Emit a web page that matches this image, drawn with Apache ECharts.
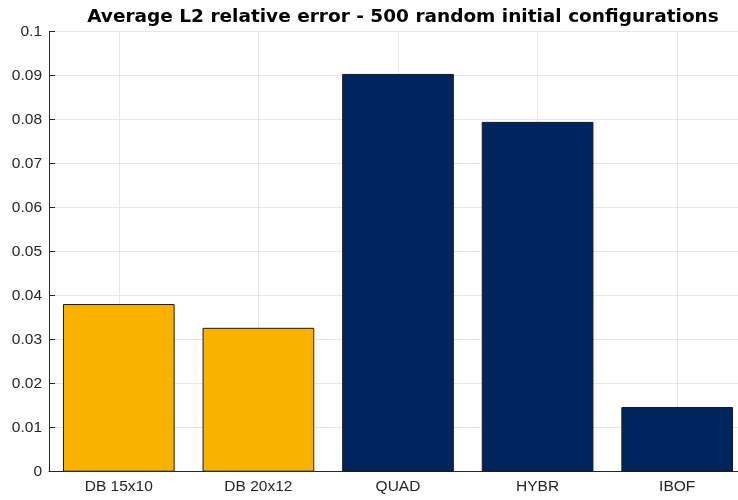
<!DOCTYPE html>
<html>
<head>
<meta charset="utf-8">
<script src="https://cdn.jsdelivr.net/npm/echarts@6/dist/echarts.min.js"></script>
<style>html,body{margin:0;padding:0;background:#fff;overflow:hidden;width:738px;height:500px}#c{width:760px;height:500px}</style>
</head>
<body>
<div id="c"></div>
<script>
const categories = ['DB 15x10', 'DB 20x12', 'QUAD', 'HYBR', 'IBOF'];
const values = [0.0381, 0.0327, 0.0904, 0.0795, 0.0147];
const barColors = ['#F9B200', '#F9B200', '#00245E', '#00245E', '#00245E'];
const yTicks = [0, 0.01, 0.02, 0.03, 0.04, 0.05, 0.06, 0.07, 0.08, 0.09, 0.1];

const chart = echarts.init(document.getElementById('c'), null, {renderer: 'canvas'});
const font = 'Liberation Sans, Arial, Helvetica, sans-serif';
chart.setOption({
  animation: false,
  title: {
    text: 'Average L2 relative error - 500 random initial configurations',
    left: 398, top: 3, textAlign: 'center',
    textStyle: {fontFamily: 'DejaVu Sans', fontSize: 18.5, fontWeight: 'bold', color: '#000'}
  },
  grid: {left: 49, top: 31.7, bottom: 28.3, width: 698, containLabel: false},
  xAxis: {
    type: 'category', data: categories,
    axisLine: {show: true, lineStyle: {color: '#262626', width: 1}},
    axisTick: {show: false},
    axisLabel: {fontFamily: font, fontSize: 15.5, color: '#262626', margin: 7},
    splitLine: {show: true, alignWithLabel: true, lineStyle: {color: '#e6e6e6', width: 1}}
  },
  yAxis: {
    type: 'value', min: 0, max: 0.1, interval: 0.01,
    axisLine: {show: true, lineStyle: {color: '#262626', width: 1}},
    axisTick: {show: true, inside: true, length: 6, lineStyle: {color: '#262626'}},
    axisLabel: {fontFamily: font, fontSize: 15.5, color: '#262626', margin: 7,
      formatter: v => { const t = yTicks.find(x => Math.abs(x - v) < 1e-9); return t === undefined ? '' : String(t); }},
    splitLine: {show: true, lineStyle: {color: '#e6e6e6', width: 1}}
  },
  series: [{
    type: 'bar', barWidth: '80%',
    data: values.map((v, i) => ({value: v, itemStyle: {color: barColors[i]}})),
    itemStyle: {borderColor: '#1a1a1a', borderWidth: 1}
  }]
});
</script>
</body>
</html>
